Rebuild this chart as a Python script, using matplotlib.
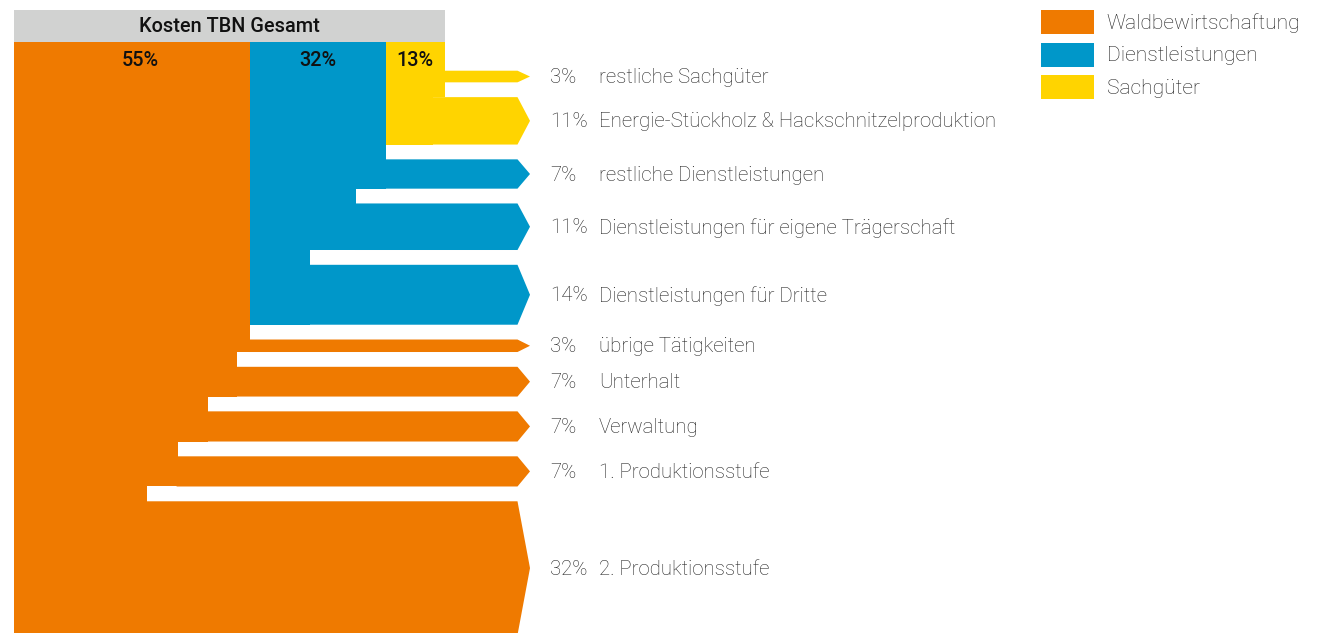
import matplotlib.pyplot as plt
from matplotlib.patches import Polygon, Rectangle

plt.rcParams['font.family'] = ['Roboto', 'DejaVu Sans']

# Gesamtkosten-Anteile (Spalten von links nach rechts)
groups = ["Waldbewirtschaftung", "Dienstleistungen", "Sachgüter"]
group_pct = ["55%", "32%", "13%"]
colors = ["#EF7A00", "#0097C9", "#FFD400"]

# Aufteilung je Bereich (Werte in %, von oben nach unten)
sach_names = ["restliche Sachgüter", "Energie-Stückholz & Hackschnitzelproduktion"]
sach_values = [2.7, 11.0]
sach_pct = ["3%", "11%"]

dienst_names = ["restliche Dienstleistungen", "Dienstleistungen für eigene Trägerschaft",
                "Dienstleistungen für Dritte"]
dienst_values = [6.8, 10.8, 13.9]
dienst_pct = ["7%", "11%", "14%"]

wald_names = ["übrige Tätigkeiten", "Unterhalt", "Verwaltung", "1. Produktionsstufe",
              "2. Produktionsstufe"]
wald_values = [2.9, 6.9, 7.0, 7.0, 31.0]
wald_pct = ["3%", "7%", "7%", "7%", "32%"]

W, H = 1317, 633
S = 4.31          # Pixel pro Prozentpunkt
X0 = 13.8
TOP = 41.7
HEAD_H = 31.7
Y0 = 70.7
GAP = 14.8
FLOW_END = 517.5
TIP = 12.5
TXT = "#222222"
FS = 14.7

fig = plt.figure(figsize=(W / 100, H / 100), dpi=100)
ax = fig.add_axes([0, 0, 1, 1])
ax.set_xlim(0, W)
ax.set_ylim(H, 0)
ax.axis('off')

values_by_group = [wald_values, dienst_values, sach_values]
totals = [sum(v) for v in values_by_group]
lefts = [X0, X0 + totals[0] * S, X0 + (totals[0] + totals[1]) * S]

# Kopfzeile
ax.add_patch(Rectangle((X0, TOP - HEAD_H), sum(totals) * S, HEAD_H, color="#D1D2D1", lw=0))
ax.text(X0 + sum(totals) * S / 2, TOP - HEAD_H / 2 + 1, "Kosten TBN Gesamt", ha='center',
        va='center', fontsize=14.3, fontweight='medium', color="#111111")


def draw_group(left, values, names, pcts, color, y, narrow_early):
    remaining = sum(values)
    col = [(left, TOP), (left + remaining * S, TOP)]
    for i, v in enumerate(values):
        h = v * S
        xs = left + remaining * S - 1
        pts = [(xs, y), (FLOW_END, y), (FLOW_END + TIP, y + h / 2), (FLOW_END, y + h), (xs, y + h)]
        ax.add_patch(Polygon(pts, closed=True, color=color, lw=0))
        ax.text(550, y + h / 2 + 1, pcts[i], va='center', ha='left', fontsize=FS,
                fontweight='light', color=TXT)
        ax.text(599, y + h / 2 + 1, names[i], va='center', ha='left', fontsize=FS,
                fontweight='light', color=TXT)
        last = i == len(values) - 1
        step_y = y + h if (narrow_early or last) else y + h + GAP
        col.append((left + remaining * S, step_y))
        remaining -= v
        col.append((left + remaining * S, step_y))
        y = y + h + GAP
    ax.add_patch(Polygon(col, closed=True, color=color, lw=0))
    return y


y = Y0
y = draw_group(lefts[2], sach_values, sach_names, sach_pct, colors[2], y, False)
y = draw_group(lefts[1], dienst_values, dienst_names, dienst_pct, colors[1], y, True)
y = draw_group(lefts[0], wald_values, wald_names, wald_pct, colors[0], y, True)

for i in range(3):
    ax.text(lefts[i] + totals[i] * S / 2 + (8 if i == 0 else 0), 60.5, group_pct[i],
            ha='center', va='center', fontsize=14.3, fontweight='medium', color="#111111")

# Legende
for i, g in enumerate(groups):
    ly = 10 + i * 32.5
    ax.add_patch(Rectangle((1041, ly), 53, 24, color=colors[i], lw=0))
    ax.text(1106.7, ly + 13, g, va='center', ha='left', fontsize=15.1,
            fontweight='light', color=TXT)

fig.savefig("out.png", dpi=100)
